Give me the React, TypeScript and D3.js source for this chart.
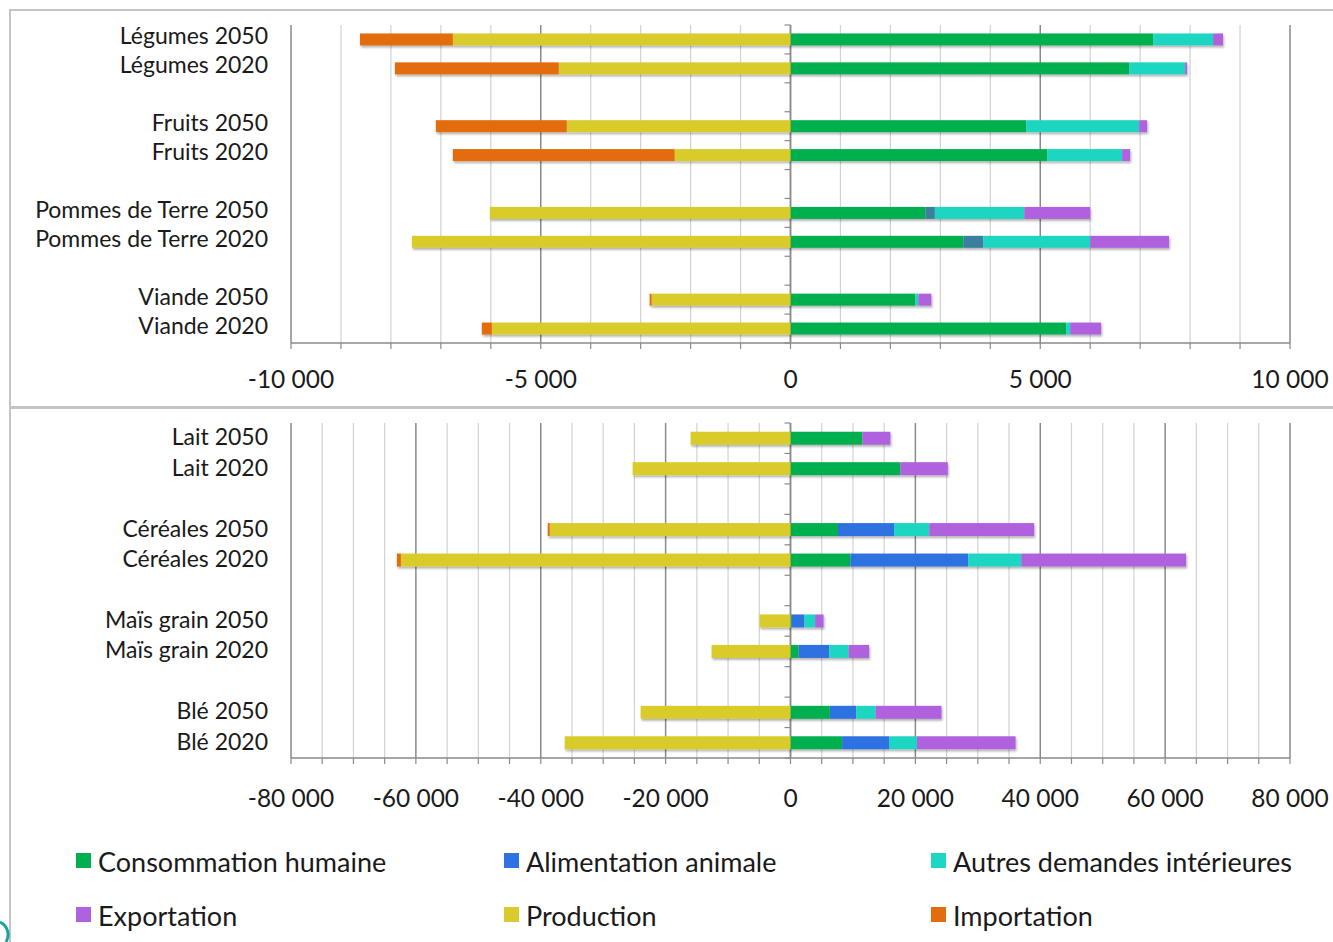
import React from "react";
import * as d3 from "d3";

// ---------- DATA ----------
const topCategories = ["Légumes 2050", "Légumes 2020", "", "Fruits 2050", "Fruits 2020", "", "Pommes de Terre 2050", "Pommes de Terre 2020", "", "Viande 2050", "Viande 2020"];
const topConsommation = [7260, 6780, 0, 4720, 5140, 0, 2700, 3460, 0, 2500, 5520];
const topAlimentation = [0, 0, 0, 0, 0, 0, 190, 400, 0, 0, 0];
const topAutres = [1200, 1120, 0, 2260, 1500, 0, 1790, 2140, 0, 60, 80];
const topExportation = [200, 40, 0, 160, 160, 0, 1320, 1580, 0, 260, 620];
const topProduction = [-6760, -4640, 0, -4480, -2320, 0, -6020, -7580, 0, -2780, -5980];
const topImportation = [-1860, -3280, 0, -2620, -4440, 0, 0, 0, 0, -40, -200];
const topTicks = [-10000, -5000, 0, 5000, 10000];

const botCategories = ["Lait 2050", "Lait 2020", "", "Céréales 2050", "Céréales 2020", "", "Maïs grain 2050", "Maïs grain 2020", "", "Blé 2050", "Blé 2020"];
const botConsommation = [11520, 17600, 0, 7600, 9600, 0, 200, 1300, 0, 6300, 8270];
const botAlimentation = [0, 0, 0, 8980, 18880, 0, 2040, 4900, 0, 4220, 7580];
const botAutres = [0, 0, 0, 5650, 8480, 0, 1700, 3100, 0, 3100, 4400];
const botExportation = [4480, 7600, 0, 16800, 26400, 0, 1350, 3300, 0, 10560, 15800];
const botProduction = [-16000, -25280, 0, -38560, -62400, 0, -4960, -12640, 0, -24000, -36160];
const botImportation = [0, 0, 0, -320, -640, 0, 0, 0, 0, 0, 0];
const botTicks = [-80000, -60000, -40000, -20000, 0, 20000, 40000, 60000, 80000];

const seriesKeys = ["consommation", "alimentation", "autres", "exportation", "production", "importation"];
const seriesLabels = ["Consommation humaine", "Alimentation animale", "Autres demandes intérieures", "Exportation", "Production", "Importation"];
const seriesColors = ["#00b050", "#2f72e2", "#1fd6c2", "#b062de", "#d9cb2b", "#e36c0c"];
const topAlimentationColor = "#3a7f9f";

// ---------- HELPERS ----------
const fr = d3.formatLocale({ decimal: ",", thousands: " ", grouping: [3], currency: ["", ""], minus: "-" });
const fmt = fr.format(",d");
const FONT = "Lato, 'Open Sans', sans-serif";

function buildRows(cats: string[], arrs: number[][]) {
  return cats.map((c, i) => {
    const r: any = { idx: String(i), label: c };
    seriesKeys.forEach((k, j) => (r[k] = arrs[j][i]));
    return r;
  });
}

type PanelProps = {
  cats: string[];
  arrs: number[][];
  domain: [number, number];
  gridStep: number;
  majorStep: number;
  ticks: number[];
  y0: number;
  y1: number;
  barH: number;
  colors: string[];
  labelY: number;
  catShift: number;
};

function Panel(p: PanelProps) {
  const rows = buildRows(p.cats, p.arrs);
  const x = d3.scaleLinear().domain(p.domain).range([291, 1290]);
  const y = d3.scaleBand<string>().domain(rows.map((r) => r.idx)).range([p.y0, p.y1]);
  const stacked = d3.stack<any>().keys(seriesKeys).offset(d3.stackOffsetDiverging)(rows);
  const grid = d3.range(p.domain[0], p.domain[1] + 1, p.gridStep);
  const bandBounds = d3.range(0, p.cats.length + 1).map((i) => p.y0 + i * y.bandwidth());
  return (
    <g>
      {grid.map((g) => {
        const major = Math.abs(g % p.majorStep) < 1e-6;
        return (
          <g key={"g" + g}>
            <line x1={x(g)} x2={x(g)} y1={p.y0} y2={p.y1} stroke={major ? "#8a8a8a" : "#d2d2d2"} strokeWidth={major ? 1.5 : 1.2} />
            <line x1={x(g)} x2={x(g)} y1={p.y1} y2={p.y1 + 6} stroke="#8a8a8a" strokeWidth={1.2} />
          </g>
        );
      })}
      <line x1={x(p.domain[0])} x2={x(p.domain[1])} y1={p.y1} y2={p.y1} stroke="#8a8a8a" strokeWidth={1.5} />
      <line x1={x(0)} x2={x(0)} y1={p.y0} y2={p.y1} stroke="#8a8a8a" strokeWidth={1.5} />
      {bandBounds.map((b, i) => (
        <line key={"bt" + i} x1={x(0) - 6} x2={x(0)} y1={b} y2={b} stroke="#8a8a8a" strokeWidth={1.2} />
      ))}
      <g filter="url(#shadow)">
        {stacked.map((s, si) =>
          s.map((d, di) => {
            const w = Math.abs(x(d[1]) - x(d[0]));
            if (w < 0.01) return null;
            const cy = (y(rows[di].idx) as number) + y.bandwidth() / 2;
            return (
              <rect
                key={s.key + di}
                x={Math.min(x(d[0]), x(d[1]))}
                y={cy - p.barH / 2}
                width={Math.max(w, 1)}
                height={p.barH}
                fill={p.colors[si]}
              />
            );
          })
        )}
      </g>
      {rows.map((r) =>
        r.label ? (
          <text key={"l" + r.idx} x={268} y={(y(r.idx) as number) + y.bandwidth() / 2 - p.catShift} textAnchor="end" dominantBaseline="central" fontFamily={FONT} fontSize={23} fill="#1a1a1a">
            {r.label}
          </text>
        ) : null
      )}
      {p.ticks.map((t) => (
        <text key={"t" + t} x={x(t)} y={p.labelY} textAnchor="middle" dominantBaseline="central" fontFamily={FONT} fontSize={24.5} fill="#1a1a1a">
          {fmt(t)}
        </text>
      ))}
    </g>
  );
}

export default function App() {
  const topColors = seriesColors.map((c, i) => (i === 1 ? topAlimentationColor : c));
  const legendCols = [76, 504, 931];
  const legendRows = [861, 915];
  return (
    <svg width={1333} height={942} style={{ display: "block", position: "absolute", left: 0, top: 0 }}>
      <defs>
        <filter id="shadow" x="-5%" y="-50%" width="110%" height="200%">
          <feDropShadow dx={1} dy={2} stdDeviation={1.2} floodColor="#000" floodOpacity={0.3} />
        </filter>
      </defs>
      <rect x={0} y={0} width={1333} height={942} fill="#fff" />
      <rect x={10} y={10} width={1340} height={397} fill="none" stroke="#c4c4c4" strokeWidth={2} />
      <rect x={10} y={408} width={1340} height={600} fill="none" stroke="#c4c4c4" strokeWidth={2} />
      <Panel
        cats={topCategories}
        arrs={[topConsommation, topAlimentation, topAutres, topExportation, topProduction, topImportation]}
        domain={[-10000, 10000]}
        gridStep={1000}
        majorStep={5000}
        ticks={topTicks}
        y0={25}
        y1={343}
        barH={12}
        colors={topColors}
        labelY={378}
        catShift={4}
      />
      <Panel
        cats={botCategories}
        arrs={[botConsommation, botAlimentation, botAutres, botExportation, botProduction, botImportation]}
        domain={[-80000, 80000]}
        gridStep={5000}
        majorStep={20000}
        ticks={botTicks}
        y0={423}
        y1={758}
        barH={13}
        colors={seriesColors}
        labelY={797}
        catShift={2}
      />
      {seriesLabels.map((l, i) => {
        const cx = legendCols[i % 3];
        const cy = legendRows[Math.floor(i / 3)];
        return (
          <g key={l}>
            <rect x={cx} y={cy - 8} width={15} height={15} fill={seriesColors[i]} />
            <text x={cx + 22} y={cy} dominantBaseline="central" fontFamily={FONT} fontSize={27} fill="#1a1a1a">
              {l}
            </text>
          </g>
        );
      })}
      <path d="M 0 922 A 14 14 0 0 1 6 942" fill="none" stroke="#1aa3a3" strokeWidth={3} />
    </svg>
  );
}
